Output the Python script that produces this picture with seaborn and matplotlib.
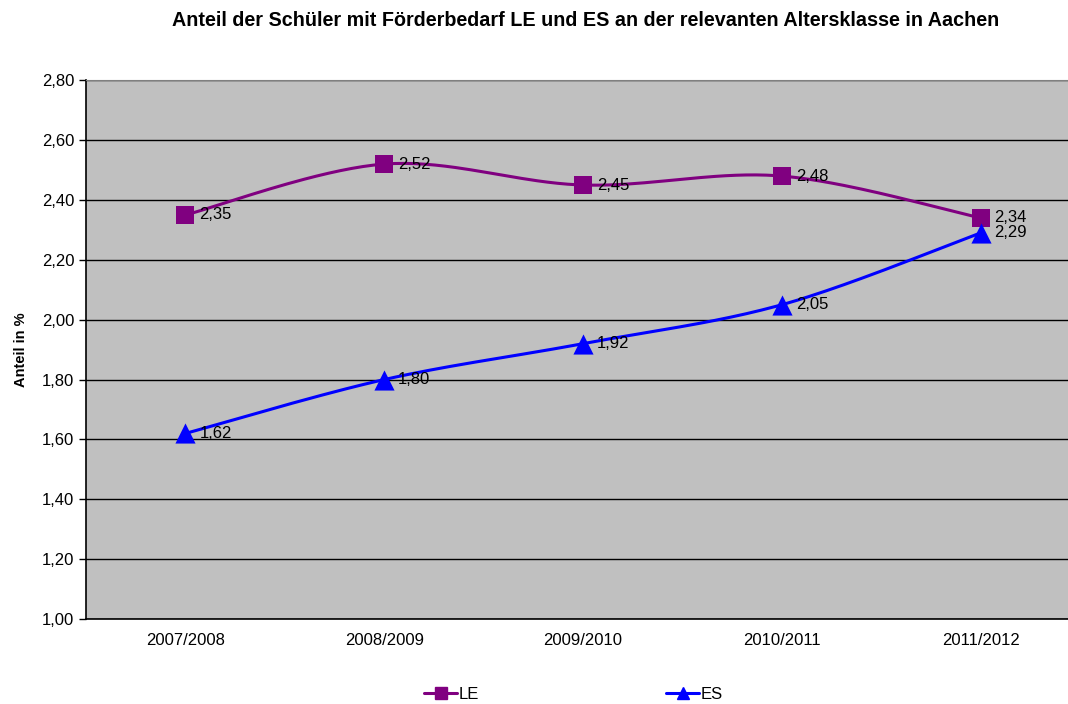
import matplotlib
matplotlib.use("Agg")
import matplotlib.pyplot as plt
from matplotlib.lines import Line2D
from matplotlib.ticker import FixedLocator, FuncFormatter
import numpy as np
import pandas as pd
import seaborn as sns

# Werte
years = ["2007/2008", "2008/2009", "2009/2010", "2010/2011", "2011/2012"]
le = [2.35, 2.52, 2.45, 2.48, 2.34]
es = [1.62, 1.80, 1.92, 2.05, 2.29]

df = pd.DataFrame({"Jahr": years * 2,
                   "Anteil": le + es,
                   "Gruppe": ["LE"] * 5 + ["ES"] * 5})
df["pos"] = df["Jahr"].map({y: i for i, y in enumerate(years)})

sns.set_style("white")
plt.rcParams["font.family"] = ["Liberation Sans", "DejaVu Sans"]
plt.rcParams["text.color"] = "black"
plt.rcParams["xtick.color"] = "black"
plt.rcParams["ytick.color"] = "black"
plt.rcParams["axes.labelcolor"] = "black"

colors = {"LE": "#800080", "ES": "#0000FF"}
markers = {"LE": "s", "ES": "^"}
sizes = {"LE": 150, "ES": 210}


def smooth(xs, ys, n=40):
    # Catmull-Rom / Bezier-Glaettung wie in Excel
    xs = np.asarray(xs, float)
    ys = np.asarray(ys, float)
    px = np.concatenate([[xs[0]], xs, [xs[-1]]])
    py = np.concatenate([[ys[0]], ys, [ys[-1]]])
    ox, oy = [], []
    t = np.linspace(0, 1, n)
    for i in range(1, len(px) - 2):
        p0 = np.array([px[i], py[i]])
        p3 = np.array([px[i + 1], py[i + 1]])
        p1 = p0 + (np.array([px[i + 1], py[i + 1]]) - np.array([px[i - 1], py[i - 1]])) / 6
        p2 = p3 - (np.array([px[i + 2], py[i + 2]]) - np.array([px[i], py[i]])) / 6
        b = ((1 - t) ** 3)[:, None] * p0 + (3 * (1 - t) ** 2 * t)[:, None] * p1 \
            + (3 * (1 - t) * t ** 2)[:, None] * p2 + (t ** 3)[:, None] * p3
        ox.extend(b[:, 0])
        oy.extend(b[:, 1])
    return ox, oy


fig, ax = plt.subplots(figsize=(10.68, 7.04), dpi=100)
# Zeichenflaeche laeuft rechts ueber den Bildrand hinaus (wie im Original abgeschnitten)
fig.subplots_adjust(left=0.0805, right=1.0112, bottom=0.1207, top=0.886)
ax.set_facecolor("#C0C0C0")

for g in ["LE", "ES"]:
    sub = df[df["Gruppe"] == g]
    sx, sy = smooth(sub["pos"], sub["Anteil"])
    ax.plot(sx, sy, color=colors[g], lw=2.2, zorder=3)
    sns.scatterplot(data=sub, x="pos", y="Anteil", marker=markers[g], color=colors[g],
                    s=sizes[g], edgecolor=colors[g], linewidth=0, ax=ax, zorder=4, legend=False)
    for x, y in zip(sub["pos"], sub["Anteil"]):
        ax.annotate(f"{y:.2f}".replace(".", ","), (x, y), xytext=(10, 0),
                    textcoords="offset points", va="center", ha="left", fontsize=12, zorder=5)

ax.set_xlim(-0.5, 4.5)
ax.set_ylim(1.0, 2.8)
ax.yaxis.set_major_locator(FixedLocator(np.arange(1.0, 2.81, 0.2)))
ax.yaxis.set_major_formatter(FuncFormatter(lambda v, p: f"{v:.2f}".replace(".", ",")))
ax.set_xticks(range(5))
ax.set_xticklabels(years)
ax.set_xticks(np.arange(-0.5, 4.6, 1), minor=True)
ax.tick_params(axis="x", which="major", length=0, labelsize=12, pad=10)
ax.tick_params(axis="x", which="minor", length=5, width=1, color="black", direction="out")
ax.tick_params(axis="y", length=5, width=1, color="black", direction="out", labelsize=12, left=True)
ax.grid(axis="y", color="black", lw=1)
ax.set_axisbelow(True)

for s in ["top", "right"]:
    ax.spines[s].set_color("#808080")
for s in ["left", "bottom"]:
    ax.spines[s].set_color("black")
    ax.spines[s].set_linewidth(1.2)

ax.set_xlabel("")
ax.set_ylabel("Anteil in %", fontsize=10.5, fontweight="bold", labelpad=10)
fig.suptitle("Anteil der Schüler mit Förderbedarf LE und ES an der relevanten Altersklasse in Aachen",
             x=0.548, y=0.985, fontsize=14.2, fontweight="bold")

handles = [Line2D([], [], color=colors[g], marker=markers[g], markersize=8, lw=2.2) for g in ["LE", "ES"]]
fig.legend(handles, ["LE", "ES"], loc="lower center", bbox_to_anchor=(0.537, -0.018), ncol=2,
           frameon=False, fontsize=12, columnspacing=11.2, handlelength=2.0, handletextpad=0.1)

fig.savefig("out.png", dpi=100)
